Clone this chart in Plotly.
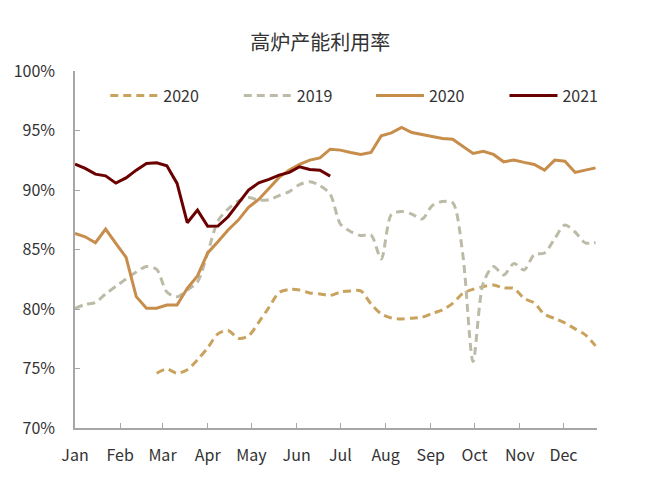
import plotly.graph_objects as go
import pandas as pd

# weekly observation dates (plotted on a common 2020 calendar axis)
weeks = pd.date_range("2020-01-01", periods=52, freq="7D")

# 2020 (dashed gold) - starts in March
s2020_dashed = [None] * 8 + [
    74.60, 74.95, 74.60, 74.89, 75.73, 76.74, 77.91, 78.20, 77.53, 77.74,
    78.88, 80.13, 81.39, 81.64, 81.60, 81.35, 81.27, 81.14, 81.43, 81.52,
    81.52, 80.43, 79.59, 79.25, 79.17, 79.23, 79.31, 79.63, 79.92, 80.47,
    81.31, 81.66, 81.88, 82.02, 81.77, 81.73, 80.89, 80.51, 79.55, 79.21,
    78.83, 78.33, 77.83, 76.90,
]

# 2019 (dashed grey)
s2019 = [
    80.05, 80.39, 80.55, 81.27, 81.90, 82.53, 83.11, 83.57, 83.32, 81.43,
    81.02, 81.60, 82.27, 84.71, 87.39, 88.40, 89.07, 89.36, 89.15, 89.19,
    89.53, 89.87, 90.45, 90.70, 90.37, 89.66, 87.14, 86.51, 86.17, 86.22,
    84.20, 87.94, 88.19, 87.98, 87.56, 88.69, 89.03, 88.94, 84.54, 75.59,
    82.19, 83.57, 82.86, 83.83, 83.28, 84.58, 84.71, 85.92, 87.06, 86.47,
    85.55, 85.59,
]

# 2020 (solid)
s2020 = [
    86.36, 86.07, 85.57, 86.72, 85.52, 84.35, 81.04, 80.07, 80.07, 80.34,
    80.34, 81.74, 82.78, 84.71, 85.65, 86.64, 87.47, 88.54, 89.21, 90.13,
    91.06, 91.67, 92.15, 92.51, 92.70, 93.43, 93.35, 93.15, 92.99, 93.15,
    94.55, 94.80, 95.25, 94.83, 94.66, 94.52, 94.33, 94.27, 93.68, 93.07,
    93.26, 92.99, 92.37, 92.51, 92.32, 92.15, 91.67, 92.51, 92.42, 91.48,
    91.67, 91.86,
]

# 2021 (solid dark red)
s2021 = [
    92.17, 91.81, 91.33, 91.19, 90.58, 91.02, 91.67, 92.23, 92.28, 92.03,
    90.55, 87.25, 88.31, 86.95, 86.97, 87.75, 88.88, 89.99, 90.60, 90.89,
    91.25, 91.48, 91.95, 91.73, 91.67, 91.17,
]

month_ticks = pd.date_range("2020-01-01", periods=12, freq="MS")
month_labels = ["Jan", "Feb", "Mar", "Apr", "May", "Jun",
                "Jul", "Aug", "Sep", "Oct", "Nov", "Dec"]
y_ticks = [70, 75, 80, 85, 90, 95, 100]
y_labels = ["70%", "75%", "80%", "85%", "90%", "95%", "100%"]

FONT = "Noto Sans CJK SC"

fig = go.Figure()
fig.add_trace(go.Scatter(
    x=weeks, y=s2020_dashed, name="2020", mode="lines", legend="legend",
    line=dict(color="#C9A25E", width=3, dash="8px,5px", shape="spline", smoothing=0.8),
))
fig.add_trace(go.Scatter(
    x=weeks, y=s2019, name="2019", mode="lines", legend="legend",
    line=dict(color="#BDBBA7", width=3, dash="8px,5px", shape="spline", smoothing=0.8),
))
fig.add_trace(go.Scatter(
    x=weeks, y=s2020, name="2020", mode="lines", legend="legend2",
    line=dict(color="#C68D4B", width=3),
))
fig.add_trace(go.Scatter(
    x=weeks[:len(s2021)], y=s2021, name="2021", mode="lines", legend="legend2",
    line=dict(color="#6B0000", width=3),
))

legend_common = dict(
    orientation="h", xanchor="left", y=0.931, yanchor="middle",
    itemwidth=48, entrywidth=70.5, entrywidthmode="pixels",
    font=dict(family=FONT, size=16, color="#333333"),
    bgcolor="rgba(0,0,0,0)", borderwidth=0,
)

axis_grey = "#A6A6A6"
fig.update_layout(
    width=648, height=492,
    margin=dict(l=67, r=59, t=63, b=72),
    paper_bgcolor="white", plot_bgcolor="white",
    font=dict(family=FONT, size=16, color="#333333"),
    title=dict(text="高炉产能利用率", x=0.482, xanchor="center", y=0.929, yanchor="middle",
               font=dict(family=FONT, size=20, color="#333333")),
    showlegend=True,
    legend=dict(x=0.058, **legend_common),
    legend2=dict(x=0.567, **legend_common),
    xaxis=dict(
        type="date", range=["2020-01-01", "2020-12-24"],
        tickvals=month_ticks, ticktext=month_labels,
        ticks="inside", ticklen=5, tickcolor=axis_grey, tickwidth=1.3,
        showline=True, linecolor=axis_grey, linewidth=1.5,
        showgrid=False, zeroline=False, automargin=False,
        ticklabelstandoff=12,
        tickfont=dict(family=FONT, size=16, color="#333333"),
    ),
    yaxis=dict(
        range=[70, 100], tickvals=y_ticks, ticktext=y_labels,
        ticks="inside", ticklen=5, tickcolor=axis_grey, tickwidth=1.3,
        showline=True, linecolor=axis_grey, linewidth=1.5,
        showgrid=False, zeroline=False, automargin=False,
        ticklabelstandoff=15,
        tickfont=dict(family=FONT, size=16, color="#333333"),
    ),
)

fig.write_html("out.html")
